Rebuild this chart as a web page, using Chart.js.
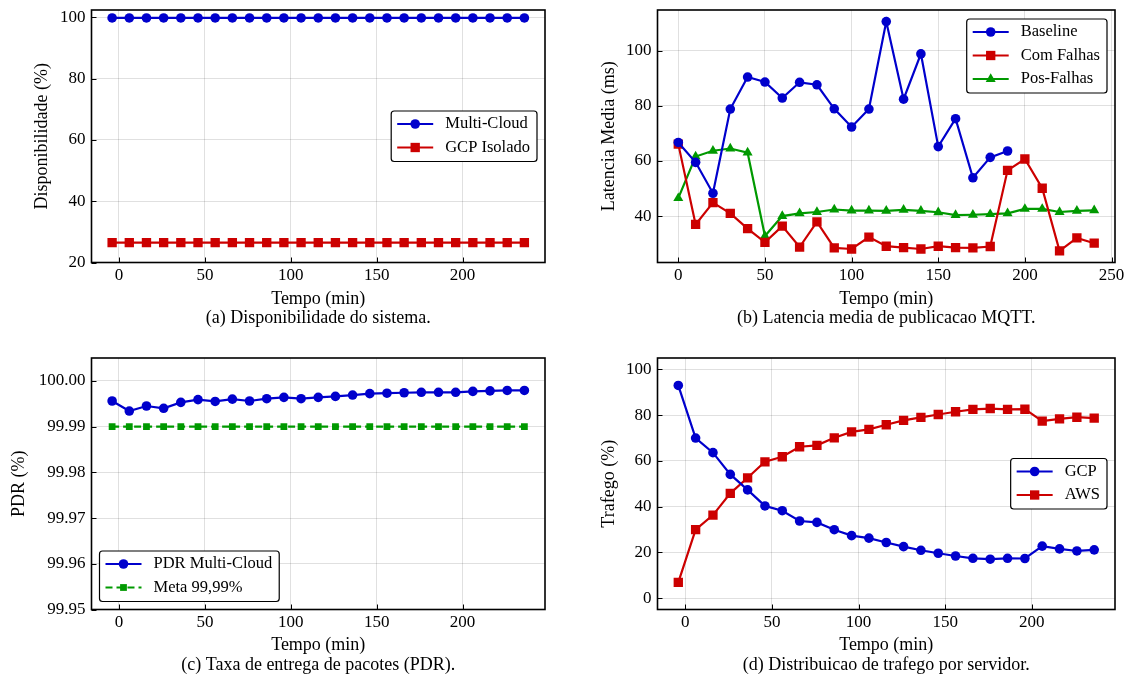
<!DOCTYPE html>
<html>
<head>
<meta charset="utf-8">
<script src="https://cdn.jsdelivr.net/npm/chart.js@4/dist/chart.umd.min.js"></script>
<style>
  html, body { margin: 0; padding: 0; background: #fff; }
  #wrap { position: relative; width: 1126px; height: 677px; }
  #wrap canvas { position: absolute; left: 0; top: 0; }
</style>
</head>
<body>
<div id="wrap">
  <canvas id="chartA" width="1126" height="677"></canvas>
  <canvas id="chartB" width="1126" height="677"></canvas>
  <canvas id="chartC" width="1126" height="677"></canvas>
  <canvas id="chartD" width="1126" height="677"></canvas>
</div>
<script>
// --- data ---
const tempo = [-4, 6, 16, 26, 36, 46, 56, 66, 76, 86, 96, 106, 116, 126, 136, 146, 156, 166, 176, 186, 196, 206, 216, 226, 236];
const tempoLat = [0, 10, 20, 30, 40, 50, 60, 70, 80, 90, 100, 110, 120, 130, 140, 150, 160, 170, 180, 190, 200, 210, 220, 230, 240];

// (a) disponibilidade
const dispMulti = [99.8, 99.8, 99.8, 99.8, 99.8, 99.8, 99.8, 99.8, 99.8, 99.8, 99.8, 99.8, 99.8, 99.8, 99.8, 99.8, 99.8, 99.8, 99.8, 99.8, 99.8, 99.8, 99.8, 99.8, 99.8];
const dispGcp = [26.5, 26.5, 26.5, 26.5, 26.5, 26.5, 26.5, 26.5, 26.5, 26.5, 26.5, 26.5, 26.5, 26.5, 26.5, 26.5, 26.5, 26.5, 26.5, 26.5, 26.5, 26.5, 26.5, 26.5, 26.5];

// (b) latencia (ms)
const latBaseline = [66.7, 59.5, 48.3, 78.8, 90.4, 88.6, 82.8, 88.5, 87.6, 78.9, 72.3, 78.8, 110.5, 82.4, 98.8, 65.2, 75.3, 53.9, 61.3, 63.6];
const latFalhas = [66.1, 37.0, 44.9, 41.0, 35.5, 30.5, 36.4, 28.8, 37.9, 28.5, 28.1, 32.4, 29.1, 28.6, 28.1, 29.1, 28.6, 28.5, 29.0, 56.6, 60.7, 50.1, 27.4, 32.1, 30.2];
const latPosFalhas = [46.5, 61.6, 63.7, 64.5, 63.0, 32.8, 40.0, 41.0, 41.5, 42.4, 42.0, 42.0, 41.9, 42.3, 41.9, 41.4, 40.4, 40.5, 40.7, 41.0, 42.6, 42.6, 41.5, 41.9, 42.1];

// (c) PDR (%)
const pdrMulti = [99.9956, 99.9934, 99.9945, 99.9940, 99.9953, 99.9959, 99.9955, 99.9960, 99.9956, 99.9961, 99.9964, 99.9961, 99.9964, 99.9966, 99.9969, 99.9972, 99.9973, 99.9974, 99.9975, 99.9975, 99.9975, 99.9977, 99.9978, 99.9979, 99.9979];
const pdrMeta = [99.99, 99.99, 99.99, 99.99, 99.99, 99.99, 99.99, 99.99, 99.99, 99.99, 99.99, 99.99, 99.99, 99.99, 99.99, 99.99, 99.99, 99.99, 99.99, 99.99, 99.99, 99.99, 99.99, 99.99, 99.99];

// (d) trafego (%)
const trafGcp = [93.0, 70.0, 63.6, 54.1, 47.3, 40.3, 38.2, 33.7, 33.1, 29.9, 27.3, 26.2, 24.3, 22.5, 20.9, 19.6, 18.4, 17.4, 17.0, 17.4, 17.3, 22.7, 21.5, 20.6, 21.1];
const trafAws = [6.9, 29.9, 36.3, 45.8, 52.6, 59.6, 61.8, 66.2, 66.8, 70.1, 72.7, 73.8, 75.8, 77.7, 79.0, 80.3, 81.5, 82.5, 82.9, 82.5, 82.6, 77.4, 78.4, 79.1, 78.7];

// tick labels
const xTicksMain = [0, 50, 100, 150, 200];
const xTicksLat = [0, 50, 100, 150, 200, 250];
const yTicksDisp = [20, 40, 60, 80, 100];
const yTicksLat = [40, 60, 80, 100];
const yTicksPdr = [99.95, 99.96, 99.97, 99.98, 99.99, 100.00];
const yTicksTraf = [0, 20, 40, 60, 80, 100];

// --- styling ---
const BLUE = '#0000cc';
const RED = '#cc0000';
const GREEN = '#009900';
const SERIF = '"Liberation Serif", "Times New Roman", serif';
const TICK_FONT = { family: SERIF, size: 17 };
const TITLE_FONT = { family: SERIF, size: 18 };
const LEGEND_CSS = '16.5px ' + SERIF;
const CAPTION_CSS = '18px ' + SERIF;
const HALF_LH = 18 * 1.2 / 2;

function pts(xs, ys) {
    return ys.map((y, i) => ({ x: xs[i], y: y }));
}

function series(label, xs, ys, color, style, radius, dash) {
    return {
        label: label,
        data: pts(xs, ys),
        borderColor: color,
        backgroundColor: color,
        borderWidth: 2.2,
        borderDash: dash || [],
        pointStyle: style,
        pointRadius: radius,
        pointBackgroundColor: color,
        pointBorderColor: color,
        pointBorderWidth: 0,
        tension: 0,
        fill: false
    };
}

function drawMarker(ctx, style, r, x, y) {
    ctx.beginPath();
    if (style === 'circle') {
        ctx.arc(x, y, r, 0, Math.PI * 2);
    } else if (style === 'rect') {
        const h = r * Math.SQRT1_2;
        ctx.rect(x - h, y - h, 2 * h, 2 * h);
    } else {
        for (let k = 0; k < 3; k++) {
            const a = k * 2 * Math.PI / 3;
            const px = x + Math.sin(a) * r, py = y - Math.cos(a) * r;
            if (k === 0) ctx.moveTo(px, py); else ctx.lineTo(px, py);
        }
        ctx.closePath();
    }
    ctx.fill();
}

function drawLegend(chart, where) {
    const { ctx, chartArea: a } = chart;
    const sets = chart.data.datasets;
    ctx.font = LEGEND_CSS;
    const textW = Math.max(...sets.map(d => ctx.measureText(d.label).width));
    const w = 6 + 36 + 12 + textW + 7;
    const h = 13 + (sets.length - 1) * 23.5 + 14;
    let x, y;
    if (where === 'centerRight') { x = a.right - 8 - w; y = (a.top + a.bottom) / 2 - h / 2; }
    else if (where === 'upperRight') { x = a.right - 8 - w; y = a.top + 9; }
    else { x = a.left + 8; y = a.bottom - 8 - h; }

    ctx.fillStyle = '#fff';
    ctx.strokeStyle = '#000';
    ctx.lineWidth = 1.2;
    ctx.beginPath();
    ctx.roundRect(x, y, w, h, 3);
    ctx.fill();
    ctx.stroke();

    sets.forEach((d, i) => {
        const cy = y + 13 + i * 23.5;
        ctx.strokeStyle = d.borderColor;
        ctx.lineWidth = d.borderWidth;
        ctx.setLineDash(d.borderDash);
        ctx.beginPath();
        ctx.moveTo(x + 6, cy);
        ctx.lineTo(x + 42, cy);
        ctx.stroke();
        ctx.setLineDash([]);
        ctx.fillStyle = d.borderColor;
        drawMarker(ctx, d.pointStyle, d.pointRadius, x + 24, cy);
        ctx.fillStyle = '#000';
        ctx.textAlign = 'left';
        ctx.textBaseline = 'middle';
        ctx.fillText(d.label, x + 54, cy);
    });
}

// frame, inward ticks, legend and caption
const panelPlugin = {
    id: 'panel',
    afterDraw(chart, args, opts) {
        const { ctx, chartArea: a, scales } = chart;
        ctx.save();
        ctx.strokeStyle = '#000';
        ctx.lineWidth = 1;
        scales.x.ticks.forEach(t => {
            const px = Math.round(scales.x.getPixelForValue(t.value)) + 0.5;
            ctx.beginPath(); ctx.moveTo(px, a.bottom); ctx.lineTo(px, a.bottom - 5); ctx.stroke();
        });
        scales.y.ticks.forEach(t => {
            const py = Math.round(scales.y.getPixelForValue(t.value)) + 0.5;
            ctx.beginPath(); ctx.moveTo(a.left, py); ctx.lineTo(a.left + 5, py); ctx.stroke();
        });
        ctx.lineWidth = 1.6;
        ctx.strokeRect(a.left, a.top, a.right - a.left, a.bottom - a.top);

        drawLegend(chart, opts.legendAt);

        ctx.font = CAPTION_CSS;
        ctx.fillStyle = '#000';
        ctx.textAlign = 'center';
        ctx.textBaseline = 'middle';
        ctx.fillText(opts.caption, (a.left + a.right) / 2, opts.captionY);
        ctx.restore();
    }
};

function makeChart(id, datasets, p) {
    const axisCommon = {
        type: 'linear',
        grid: { color: 'rgba(0,0,0,0.12)', lineWidth: 1, drawTicks: false },
        border: { display: false }
    };
    return new Chart(document.getElementById(id), {
        type: 'line',
        data: { datasets: datasets },
        options: {
            responsive: false,
            animation: false,
            events: [],
            layout: {
                padding: {
                    left: p.yTitleX - HALF_LH,
                    right: 1126 - p.right,
                    top: p.top,
                    bottom: 677 - (p.xTitleY + HALF_LH)
                }
            },
            plugins: {
                legend: { display: false },
                tooltip: { enabled: false },
                panel: { caption: p.caption, captionY: p.captionY, legendAt: p.legendAt }
            },
            scales: {
                x: {
                    ...axisCommon,
                    min: p.xMin, max: p.xMax,
                    afterBuildTicks: s => { s.ticks = p.xTicks.map(v => ({ value: v })); },
                    afterFit: s => {
                        s.height = p.xTitleY + HALF_LH - p.bottom;
                        s.paddingLeft = 0; s.paddingRight = 0;
                    },
                    ticks: { font: TICK_FONT, color: '#000', padding: 3, maxRotation: 0 },
                    title: { display: true, text: 'Tempo (min)', font: TITLE_FONT, color: '#000', padding: 0 }
                },
                y: {
                    ...axisCommon,
                    min: p.yMin, max: p.yMax,
                    afterBuildTicks: s => { s.ticks = p.yTicks.map(v => ({ value: v })); },
                    afterFit: s => {
                        s.width = p.left - (p.yTitleX - HALF_LH);
                        s.paddingTop = 0; s.paddingBottom = 0;
                    },
                    ticks: {
                        font: TICK_FONT, color: '#000', padding: 6,
                        callback: v => p.decimals ? v.toFixed(p.decimals) : String(v)
                    },
                    title: { display: true, text: p.yTitle, font: TITLE_FONT, color: '#000', padding: 0 }
                }
            }
        },
        plugins: [panelPlugin]
    });
}

makeChart('chartA', [
    series('Multi-Cloud', tempo, dispMulti, BLUE, 'circle', 4.8),
    series('GCP Isolado', tempo, dispGcp, RED, 'rect', 6.6)
], {
    left: 91.5, right: 545, top: 10, bottom: 262.5,
    yTitleX: 42.4, xTitleY: 299, captionY: 318.3,
    xMin: -16, xMax: 248, xTicks: xTicksMain,
    yMin: 20, yMax: 102.4, yTicks: yTicksDisp,
    yTitle: 'Disponibilidade (%)', legendAt: 'centerRight',
    caption: '(a) Disponibilidade do sistema.'
});

makeChart('chartB', [
    series('Baseline', tempoLat, latBaseline, BLUE, 'circle', 4.8),
    series('Com Falhas', tempoLat, latFalhas, RED, 'rect', 6.6),
    series('Pos-Falhas', tempoLat, latPosFalhas, GREEN, 'triangle', 5.8)
], {
    left: 657.5, right: 1115, top: 10, bottom: 262.5,
    yTitleX: 609.7, xTitleY: 299, captionY: 318.3,
    xMin: -12, xMax: 252, xTicks: xTicksLat,
    yMin: 23.2, yMax: 114.7, yTicks: yTicksLat,
    yTitle: 'Latencia Media (ms)', legendAt: 'upperRight',
    caption: '(b) Latencia media de publicacao MQTT.'
});

makeChart('chartC', [
    series('PDR Multi-Cloud', tempo, pdrMulti, BLUE, 'circle', 4.8),
    series('Meta 99,99%', tempo, pdrMeta, GREEN, 'rect', 4.8, [7, 4])
], {
    left: 91.5, right: 545, top: 358, bottom: 609.5,
    yTitleX: 19.7, xTitleY: 645.7, captionY: 665.7,
    xMin: -16, xMax: 248, xTicks: xTicksMain,
    yMin: 99.95, yMax: 100.005, yTicks: yTicksPdr, decimals: 2,
    yTitle: 'PDR (%)', legendAt: 'lowerLeft',
    caption: '(c) Taxa de entrega de pacotes (PDR).'
});

makeChart('chartD', [
    series('GCP', tempo, trafGcp, BLUE, 'circle', 4.8),
    series('AWS', tempo, trafAws, RED, 'rect', 6.6)
], {
    left: 657.5, right: 1115, top: 358, bottom: 609.5,
    yTitleX: 609.7, xTitleY: 645.7, captionY: 665.7,
    xMin: -16, xMax: 248, xTicks: xTicksMain,
    yMin: -5, yMax: 105, yTicks: yTicksTraf,
    yTitle: 'Trafego (%)', legendAt: 'centerRight',
    caption: '(d) Distribuicao de trafego por servidor.'
});
</script>
</body>
</html>
